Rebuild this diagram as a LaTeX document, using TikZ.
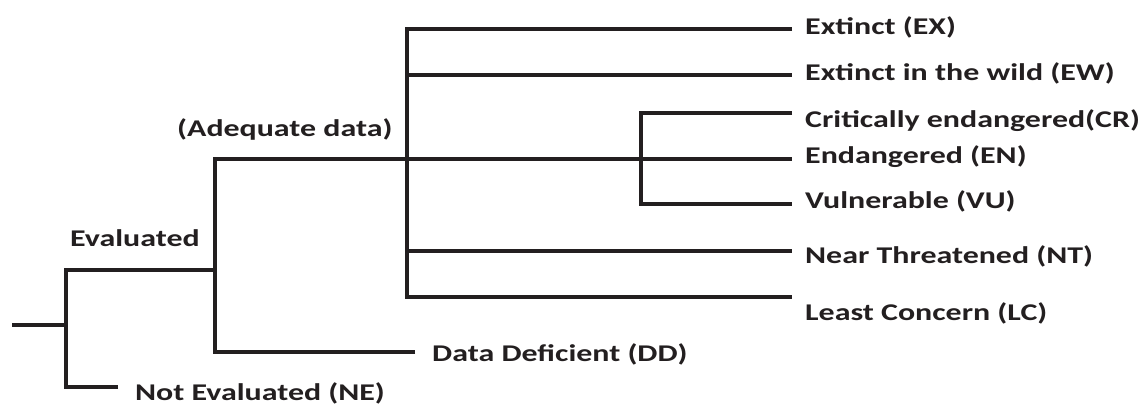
\documentclass[tikz,border=0pt]{standalone}
\usepackage{fontspec}
\setmainfont{Carlito}[FakeStretch=1.33]
\definecolor{ink}{HTML}{231F20}
\begin{document}
\begin{tikzpicture}[x=1pt,y=-1pt,
  branch/.style={draw=ink,line width=3.6pt,line join=miter},
  lbl/.style={anchor=west,inner sep=0pt,text=ink,font=\fontsize{24}{28}\selectfont\bfseries}]
\useasboundingbox[fill=white] (0,0) rectangle (1140,406);
% junction coordinates
\coordinate (root) at (12,325);
\coordinate (j0) at (66,325);
\coordinate (evA) at (66,270);
\coordinate (neA) at (66,387);
\coordinate (neE) at (118,387);
\coordinate (j1) at (215,270);
\coordinate (adA) at (215,159);
\coordinate (ddA) at (215,352);
\coordinate (ddE) at (415,352);
\coordinate (j2) at (407,159);
\coordinate (exA) at (407,29);
\coordinate (exE) at (792,29);
\coordinate (ewA) at (407,75);
\coordinate (ewE) at (792,75);
\coordinate (j3) at (641,159);
\coordinate (enE) at (792,159);
\coordinate (crA) at (641,113);
\coordinate (crE) at (792,113);
\coordinate (vuA) at (641,204);
\coordinate (vuE) at (792,204);
\coordinate (ntA) at (407,251);
\coordinate (ntE) at (792,251);
\coordinate (lcA) at (407,297);
\coordinate (lcE) at (792,297);
% labels
\node[lbl] (ne) at (135,393) {Not Evaluated (NE)};
\node[lbl] (dd) at (432,354) {Data Deficient (DD)};
\node[lbl] (ev) at (70,238) {Evaluated};
\node[lbl] (ad) at (177,129) {(Adequate data)};
\node[lbl] (ex) at (805,27) {Extinct (EX)};
\node[lbl] (ew) at (805,73) {Extinct in the wild (EW)};
\node[lbl] (cr) at (805,121) {Critically endangered(CR)};
\node[lbl] (en) at (805,157) {Endangered (EN)};
\node[lbl] (vu) at (805,201) {Vulnerable (VU)};
\node[lbl] (nt) at (805,256) {Near Threatened (NT)};
\node[lbl] (lc) at (805,313) {Least Concern (LC)};
% connectors
\draw[branch] (root) -- (j0);
\draw[branch] (neE) -- (neA) -- (evA) -- (j1);
\draw[branch] (ddE) -- (ddA) -- (adA) -- (j2);
\draw[branch] (exE) -- (exA) -- (lcA) -- (lcE);
\draw[branch] (ewA) -- (ewE);
\draw[branch] (ntA) -- (ntE);
\draw[branch] (j2) -- (enE);
\draw[branch] (crE) -- (crA) -- (vuA) -- (vuE);
\end{tikzpicture}
\end{document}
